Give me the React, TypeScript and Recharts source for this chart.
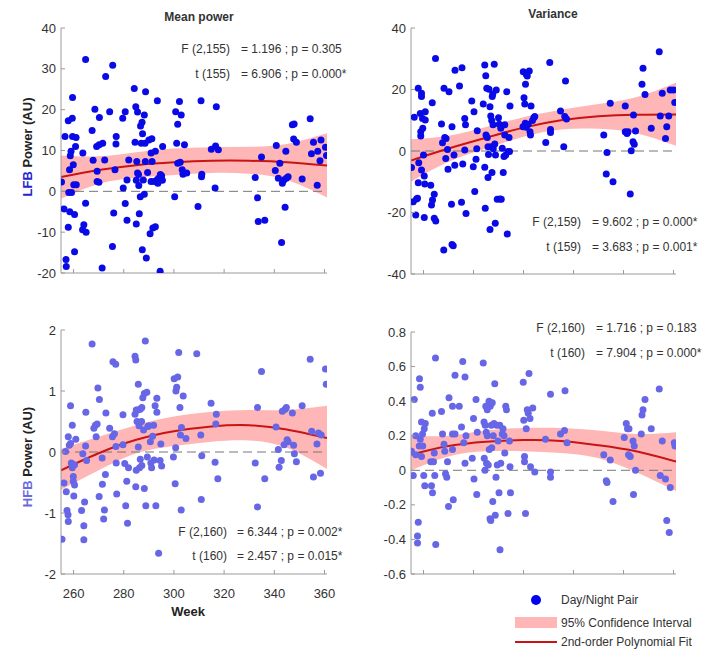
import React from 'react';
import { ComposedChart, Scatter, Line, Area, XAxis, YAxis, ReferenceLine } from 'recharts';

// [week, power] pairs
const lfbMeanPoints: [number, number][] = [
  [255.2, 2.3], [256.6, 13.4], [256.2, -4.3], [257, -16.7], [257.1, -18.4], [257.9, 17.3], [258.1, -0.3],
  [258.4, 5.3], [258.7, 8.7], [259, 9.8], [259.5, 17.9], [259.6, 23], [257.9, -8.8], [258.5, -5],
  [259.2, -0.3], [259.6, 13.4], [259.9, 6.5], [260.1, 1.6], [260.4, -5.7], [260.4, -14.8], [260.8, 11],
  [261, 13.2], [261.1, 1.6], [263.7, 9.4], [264.8, -2.9], [264.8, 32.3], [263.6, -9.4], [264.1, -8.2],
  [265, -10], [267.4, 14.9], [267.8, 7.6], [268.5, 20.1], [269.2, 11], [269.4, 4.9], [269.4, 2.4],
  [270.1, 2.2], [270.2, 11.4], [270.3, 18.1], [271.6, 11.8], [272.4, 7.7], [272.8, 28.1], [271.4, -18.8],
  [275.6, 30.9], [274.4, 19.5], [275.5, -13.5], [276, -5.3], [276.5, 5.3], [277, 13.4], [276.9, 11.6],
  [279.8, 0.8], [279.6, 17.9], [280.6, 19.5], [280.6, -3], [281.3, 2.8], [281.3, -7.1], [282, 7.7],
  [284.2, 25.2], [284.8, 20.7], [284.5, 12], [285, 2.7], [285, -8], [285.2, 7.3], [285.5, 4.5],
  [285.5, 19.4], [285.9, 4.1], [286, 1.4], [286.2, -5.5], [286.6, -1.3], [286.7, 16], [287, 11.8],
  [287.3, 16.9], [287.5, 14.1], [287.4, -14.3], [287.8, 2.8], [288.2, 18.7], [288.2, -0.7], [288.5, 11.8],
  [288.6, 7.3], [288.7, 24.4], [289, -16.3], [289.5, 4.6], [290, 12.6], [290.5, -10.4], [290.9, 9.4],
  [290.9, 2.4], [291.2, 12.9], [291.3, 7.3], [291.6, -9], [292.2, 2.4], [292.6, 9.8], [292.6, -8.7],
  [293.4, 22.2], [293.2, 2.8], [293.6, 2], [293.9, 3.2], [294.5, -19.6], [294.6, 4.1], [295.1, 3.8],
  [295.5, 11], [295.4, 2.7], [300.3, -1.3], [300.7, 19.5], [301.1, 11.8], [301.5, 16.4], [301.5, 6.9],
  [302.2, 22], [302.5, 7.1], [302.9, 18.7], [303.3, 5.3], [303.6, 4.2], [304.2, 11.4], [305.1, 4.5],
  [309.6, -3.7], [310.8, 22.2], [311.1, 4.2], [311, 3.6], [314.9, 10.3], [316.4, 0.8], [316.6, 11.1],
  [316.9, 20.7], [317.7, 10.2], [332.4, 3.4], [333.3, -1.6], [333.6, -7.4], [334.9, 8.4], [336.2, -7.1],
  [340.4, 5.1], [340.8, 11.2], [341.6, 3.2], [342.2, 6.9], [342.9, -12.5], [343.2, 2], [343.8, 2.8],
  [344.3, -3.9], [344.6, 9.8], [344.8, 3.2], [345.5, 3.6], [347.2, 16.3], [347.7, 12.8], [347.9, 16.5],
  [348.8, 12], [351.1, 3], [354.3, 17.8], [354.8, 9.2], [355.6, 12], [357.1, 1.5], [357.3, 9.8],
  [358.2, 7.5], [358.6, 12.6], [360.4, 10.8], [360.8, 8.8],
];

const lfbVarPoints: [number, number][] = [
  [255.2, -5.4], [255.9, -16.5], [256.3, 11], [256.9, -20.8], [257.2, -15.6], [257.6, -15.4], [257.9, 20.4],
  [257.9, -10.3], [258.1, -3.8], [258.7, 12.2], [258.9, 4.9], [258.9, 6.3], [259.2, 18.8], [259.2, 17.7],
  [259.2, -6.2], [259.6, 10.6], [259.7, 7.4], [260, -1.3], [260.3, -8.1], [260.5, -10.7], [260.3, -21.6],
  [260.7, 12.8], [260.7, 10.1], [262.9, -11.1], [263.2, -17.6], [263.5, 15.7], [263.6, -15.9], [264.3, -14.1],
  [264.3, -21.9], [264.8, 30.1], [264.9, -22.8], [267.2, 8.8], [267.6, 2.7], [268.1, -32.2], [268.2, 20.4],
  [268.5, 4.4], [268.9, -2.4], [269, 4.1], [269.6, 0.5], [269.8, -5.9], [270.2, 19.3], [271.2, -17.3],
  [271.4, 7.9], [271.4, -30.4], [271.9, -30.8], [272.2, -1.3], [272.5, -4.6], [272.6, 26.3], [274.4, 21.1],
  [275.4, 27.1], [275.2, -16.7], [275.7, -4.2], [276.5, 10.6], [276.8, 8.5], [277, -20.3], [276.5, 0.3],
  [279.3, 16.3], [279.9, -5.1], [280.2, 12.8], [280.5, -13.2], [281, -2.7], [281.5, 6.6], [281.3, 0.7],
  [283.9, 15.3], [284.5, 28], [284.5, -5.3], [284.7, -18.6], [284.9, 24.5], [285, 5.2], [285.3, 20.4],
  [285.5, 4.4], [285.8, 1.4], [285.8, -8.6], [286, -1.1], [286.2, 20.1], [286.6, 14.4], [286.6, -25.5],
  [286.9, 11.4], [287.1, 1.4], [287.3, 9.9], [287.4, -7], [287.5, 17.7], [287.7, 18.5], [287.8, 8.5],
  [287.9, 0.7], [288.3, 28.2], [288.5, 2.3], [288.7, -23.5], [288.8, -1.3], [289.1, 19.8], [289.5, -15.7],
  [290, 10.8], [290.3, 8.7], [290.6, -15.6], [290.9, 7.4], [291.1, -15.7], [291.5, 0.9], [291.9, -7],
  [292.2, -1.8], [292.5, 8.5], [292.5, 5.2], [292.9, -1.3], [293.3, 19.3], [293.5, -27], [293.8, -0.2],
  [294.2, 4.4], [294.4, -0.2], [294.6, 14.6], [299.8, 7.9], [299.9, 25.8], [300.2, 17.3], [300.5, 15.3],
  [300.7, 9], [300.8, 21.7], [301.1, 25], [301.1, 7.7], [301.5, 24.4], [301.9, 8.7], [302.3, 26],
  [302.6, 6.3], [302.8, 5.2], [303, 14.6], [303.6, 9.9], [304.1, 10.8], [304.5, 11.2], [308.9, 2.8],
  [310.5, 28.8], [310.8, 7], [310.8, 6], [314.8, 13], [316.1, 1.4], [316.5, 11.2], [316.8, 22.8],
  [317.2, 10.4], [332.1, 5.2], [333.4, -0.5], [333.1, -7.5], [334.7, 15.5], [335.8, -10], [340.7, 14.6],
  [340.7, 6.3], [341.4, 5.7], [341.8, 6.3], [342.7, -14], [343.1, 0.1], [343.8, 3], [344, 11.7],
  [344.3, 2.2], [344.8, 6.5], [347.4, 21.7], [347.8, 26.9], [348.6, 18.4], [351.1, 7.4], [354.3, 32.3],
  [354.7, 11.4], [355.5, 18.8], [356.8, 4.1], [357.3, 7.9], [358.1, 11.4], [358.7, 19.8], [360, 19.8],
  [360.5, 15.8],
];

const hfbMeanPoints: [number, number][] = [
  [255.4, -1.43], [256.2, -0.51], [256.8, 0.01], [257.1, -0.65], [257.4, -0.96], [257.8, -1.03], [257.9, -1.14],
  [257.9, 0.25], [258.3, 0.11], [258.8, 0.76], [258.8, 0.14], [259.1, -0.18], [259.5, 0.44], [259.5, -0.26],
  [259.9, -0.48], [259.9, -0.4], [260.1, -0.72], [260.4, -0.54], [260.4, -0.21], [260.9, 0.21], [263.2, -0.96],
  [263.7, -0.03], [264.1, -1.21], [264.1, -1.44], [264.4, -0.82], [264.8, 0.1], [264.9, 0.65], [265.2, -0.14],
  [267.4, 1.77], [268.1, 0.39], [268.7, 0.44], [269, 0.25], [269.7, 1.05], [269.4, 0.46], [270.3, 0.86],
  [270.2, -0.73], [271.4, -0.1], [271.5, -0.53], [272, -1.1], [272.3, -0.95], [272.7, -0.37], [272.9, 0.64],
  [274.4, 0.39], [275.5, 0.25], [275.7, 1.48], [276.3, 0.3], [276.8, 1.44], [276.9, 0.09], [277, -0.18],
  [277.2, -0.69], [279.7, 0.61], [279.7, 0.12], [280.4, -0.19], [280.8, -0.88], [281.2, -0.48], [281.5, -1.17],
  [281.9, -0.26], [284.5, 1.57], [284.8, 1.51], [284.5, 0.62], [284.8, -0.57], [285, 0.69], [285, -0.3],
  [285.3, 0.5], [285.6, 0.69], [285.8, 1.11], [285.8, 0.08], [286.1, 0.43], [286.3, -0.26], [286.6, -0.12],
  [286.6, 0.7], [287.1, 0.5], [287.2, 0.73], [287.2, -0.22], [287.6, 0.89], [287.9, 0.36], [288.2, -0.6],
  [288.2, 0.96], [288.6, 1.82], [288.8, -0.88], [289.2, 0.98], [289.4, -0.08], [289.6, 0.42], [290, 0.43],
  [290.6, 0.17], [290.8, -0.18], [291.1, -0.26], [291.5, 0.26], [291.9, 0.44], [292.1, -0.13], [292.5, 0.76],
  [292.8, -0.88], [293.2, 0.88], [293.2, 0.65], [293.9, -1.66], [294.5, -0.14], [294.8, 0.13], [295.1, -0.23],
  [299.8, -0.08], [300.1, 1.2], [300.5, -0.52], [300.7, 0.07], [300.8, 1.0], [301.1, 1.06], [301.5, 1.23],
  [301.9, 1.63], [302.4, 0.73], [302.6, 0.28], [302.9, -0.95], [303, 0.4], [303.7, 0.92], [304.8, 0.22],
  [309.1, 1.61], [310.7, 0.28], [310.9, -0.78], [311.1, -0.06], [314.8, 0.8], [316.4, -0.17], [316.7, 0.46],
  [316.9, 0.62], [317.5, -0.44], [332.4, -0.18], [333.3, 0.73], [333.3, -0.9], [334.9, 1.32], [336.2, -0.44],
  [340.7, 0.41], [341.6, 0.04], [341.9, -0.25], [342.8, -0.14], [343.2, 0.67], [343.9, 0.12], [344.3, 0.7],
  [344.8, 0.73], [345.1, 0.2], [345.5, 0.17], [347.2, 0.64], [347.7, 0.11], [348, -0.03], [348.8, -0.16],
  [351.1, 0.76], [354.3, 1.52], [354.9, 0.34], [355.6, -0.41], [357, 0.13], [357.6, 0.31], [358.4, -0.35],
  [358.7, 0.28], [360.4, 1.36], [360.7, 1.11],
];

const hfbVarPoints: [number, number][] = [
  [255.2, 0.11], [255.9, -0.03], [256.3, 0.41], [256.9, 0.2], [256.9, 0.09], [257.6, -0.38], [257.6, -0.42],
  [257.9, -0.3], [258.3, 0.14], [258.4, 0.53], [258.7, 0.48], [258.7, 0.18], [259.2, 0.28], [259.2, 0.08],
  [259.6, 0.21], [259.7, 0.14], [260.1, -0.03], [260.3, 0.24], [260.7, 0.27], [260.5, -0.09], [262.9, 0.05],
  [263.2, -0.09], [263.5, 0.33], [263.6, -0.13], [264, 0.05], [264.3, 0.1], [264.5, -0.03], [264.8, 0.65],
  [264.9, -0.43], [267.2, 0.34], [267.6, 0.21], [268.2, 0.15], [268.5, 0.11], [268.8, -0.02], [269.3, -0.04],
  [269.6, 0.05], [270, -0.21], [270.2, 0.42], [271.6, 0.37], [271.6, 0.21], [271.9, -0.17], [272.6, 0.21],
  [272.6, 0.55], [271.6, 0.12], [274.3, 0.37], [275.2, 0.25], [275.7, 0.63], [276.1, 0.16], [276.6, 0.04],
  [276.6, 0.54], [277, 0.2], [279.5, 0.07], [280, 0.3], [280.2, -0.05], [281, 0.41], [281.3, -0.14],
  [281.5, 0.22], [283.9, 0.62], [284.2, 0.28], [284.3, 0.07], [284.6, 0.0], [284.7, 0.26], [284.9, 0.37],
  [285.1, 0.22], [285.2, 0.04], [285.5, 0.35], [285.5, 0.2], [285.9, 0.03], [286.2, 0.4], [286.3, 0.12],
  [286.6, -0.28], [286.7, 0.37], [286.9, -0.29], [287.1, 0.26], [287.3, 0.13], [287.5, 0.39], [287.7, -0.18],
  [287.9, 0.2], [288.2, 0.27], [288.5, 0.5], [288.7, -0.26], [289, -0.04], [289.3, 0.26], [289.5, 0.03],
  [289.8, 0.17], [290.2, -0.13], [290.5, 0.26], [290.6, -0.46], [290.9, 0.04], [291.5, 0.21], [291.8, 0.24],
  [292.2, 0.2], [292.5, 0.1], [292.9, 0.37], [293.2, 0.35], [293.8, -0.25], [294.4, 0.17], [294.8, -0.13],
  [294.6, 0.02], [299.9, 0.51], [300.1, 0.29], [300.4, 0.08], [300.4, 0.05], [300.8, -0.25], [301.1, 0.24],
  [301.5, 0.35], [301.9, 0.33], [302.2, 0.56], [302.6, 0.3], [302.8, 0.02], [303.7, 0.36], [304.5, -0.01],
  [308.8, 0.18], [310.8, 0.44], [310.8, -0.01], [310.8, -0.04], [314.8, 0.21], [316.4, 0.23], [316.6, 0.46],
  [317.4, 0.16], [332.1, 0.09], [333.1, -0.06], [333.4, -0.07], [334.7, 0.06], [335.8, -0.18], [340.3, 0.19],
  [341.1, 0.27], [341.6, 0.24], [342.2, 0.24], [342, 0.09], [342.7, 0.08], [343.8, 0.17], [344, -0.14],
  [344.3, 0.14], [344.8, 0], [347.1, 0.21], [347.4, 0.32], [347.8, 0.35], [348.6, 0.41], [351.1, 0.24],
  [354.3, 0.47], [354.7, -0.03], [355.5, 0.17], [356.8, -0.05], [357.3, -0.29], [358.3, -0.36], [358.7, -0.1],
  [360.3, 0.16], [360.6, 0.14],
];

// fitted curve and 95% confidence band, sampled at these weeks
const fitWeeks = [255, 270, 285, 300, 315, 330, 345, 361];

const lfbMeanFit = [3.5, 5.2, 6.4, 7.1, 7.5, 7.5, 7.1, 6.3];
const lfbMeanLow = [-1.8, 1.8, 3.3, 4.0, 4.5, 4.3, 2.8, -1.5];
const lfbMeanHigh = [8.8, 8.6, 9.6, 10.5, 10.8, 10.9, 11.6, 14.2];

const lfbVarFit = [-3.1, 0.8, 4.3, 7.6, 10.0, 11.3, 11.8, 11.9];
const lfbVarLow = [-10, -3.5, 0.8, 4.6, 7.0, 7.2, 5.8, 1.7];
const lfbVarHigh = [3.8, 5.0, 7.8, 11.0, 13.4, 15.3, 17.5, 22.2];

const hfbMeanFit = [-0.3, -0.02, 0.2, 0.34, 0.42, 0.44, 0.37, 0.23];
const hfbMeanLow = [-0.62, -0.3, -0.02, 0.1, 0.17, 0.19, 0.07, -0.28];
const hfbMeanHigh = [0.05, 0.25, 0.44, 0.58, 0.66, 0.69, 0.69, 0.76];

const hfbVarFit = [0.09, 0.14, 0.165, 0.175, 0.17, 0.145, 0.11, 0.05];
const hfbVarLow = [0.0, 0.08, 0.11, 0.11, 0.1, 0.07, -0.01, -0.12];
const hfbVarHigh = [0.2, 0.2, 0.23, 0.245, 0.245, 0.23, 0.21, 0.22];

const weekTicks = [260, 280, 300, 320, 340, 360];
const lfbMeanTicks = [-20, -10, 0, 10, 20, 30, 40];
const lfbVarTicks = [-40, -20, 0, 20, 40];
const hfbMeanTicks = [-2, -1, 0, 1, 2];
const hfbVarTicks = [-0.6, -0.4, -0.2, 0, 0.2, 0.4, 0.6, 0.8];

const FONT = '"Liberation Sans", Arial, Helvetica, sans-serif';
const AXIS = '#9a9a9a';
const TEXT = '#333';
const BAND = '#ffb6b6';
const FIT = '#c81414';
const LFB_DOT = '#0a0ae6';
const HFB_DOT = '#6666e6';

const YW = 40;
const MT = 10;
const MR = 10;
const XH = 30;

const buildFit = (fit: number[], low: number[], high: number[]) =>
  fitWeeks.map((week, i) => ({ week, fit: fit[i], band: [low[i], high[i]] }));

type PanelProps = {
  left: number;
  top: number;
  w: number;
  h: number;
  points: [number, number][];
  fit: { week: number; fit: number; band: number[] }[];
  yDomain: [number, number];
  yTicks: number[];
  color: string;
  showWeek?: boolean;
};

const Panel = ({ left, top, w, h, points, fit, yDomain, yTicks, color, showWeek }: PanelProps) => {
  const scatter = points.map(([week, v]) => ({ week, v }));
  const axisY = MT + h;
  const xTick = (p: any) => (
    <g>
      <line x1={p.x} x2={p.x} y1={axisY} y2={axisY - 4} stroke={AXIS} />
      {showWeek && (
        <text x={p.x} y={axisY + 19} textAnchor="middle" dominantBaseline="central" fontSize={13} fill={TEXT} fontFamily={FONT}>
          {p.payload.value}
        </text>
      )}
    </g>
  );
  const yTick = (p: any) => (
    <g>
      <line x1={YW} x2={YW + 4} y1={p.y} y2={p.y} stroke={AXIS} />
      <text x={YW - 5} y={p.y} textAnchor="end" dominantBaseline="central" fontSize={13} fill={TEXT} fontFamily={FONT}>
        {p.payload.value}
      </text>
    </g>
  );
  return (
    <div style={{ position: 'absolute', left: left - YW, top: top - MT }}>
      <ComposedChart width={YW + w + MR} height={MT + h + XH} data={fit} margin={{ top: MT, right: MR, bottom: 0, left: 0 }}>
        <XAxis
          dataKey="week"
          type="number"
          domain={[255, 361]}
          ticks={weekTicks}
          allowDataOverflow
          height={XH}
          axisLine={{ stroke: AXIS }}
          tickLine={false}
          tick={xTick}
        />
        <YAxis
          type="number"
          domain={yDomain}
          ticks={yTicks}
          allowDataOverflow
          width={YW}
          axisLine={{ stroke: AXIS }}
          tickLine={false}
          tick={yTick}
        />
        <Area dataKey="band" type="natural" fill={BAND} fillOpacity={1} stroke="none" isAnimationActive={false} />
        <ReferenceLine y={0} stroke="#777" strokeDasharray="9 5" />
        <Scatter
          data={scatter}
          dataKey="v"
          fill={color}
          isAnimationActive={false}
          shape={(s: any) => <circle cx={s.cx} cy={s.cy} r={3.5} fill={color} />}
        />
        <Line dataKey="fit" type="natural" stroke={FIT} strokeWidth={2} dot={false} isAnimationActive={false} />
      </ComposedChart>
    </div>
  );
};

const Stat = ({ right, left, y, a, b }: { right: number; left: number; y: number; a: string; b: string }) => (
  <>
    <div style={{ position: 'absolute', right: 721 - right, top: y - 8, fontSize: 12, color: TEXT, whiteSpace: 'nowrap' }}>{a}</div>
    <div style={{ position: 'absolute', left, top: y - 8, fontSize: 12, color: TEXT, whiteSpace: 'nowrap' }}>{b}</div>
  </>
);

const YLabel = ({ y, band, bandColor }: { y: number; band: string; bandColor: string }) => (
  <div
    style={{
      position: 'absolute',
      left: 28,
      top: y,
      transform: 'translate(-50%, -50%) rotate(-90deg)',
      fontSize: 13,
      fontWeight: 'bold',
      whiteSpace: 'nowrap',
      color: '#222',
    }}
  >
    <span style={{ color: bandColor }}>{band}</span> Power (AU)
  </div>
);

export default function App() {
  return (
    <div style={{ position: 'absolute', left: 0, top: 0, width: 721, height: 662, background: '#fff', fontFamily: FONT, lineHeight: '16px' }}>
      <div style={{ position: 'absolute', left: 199, top: 17, transform: 'translate(-50%, -50%)', fontSize: 12, fontWeight: 'bold', color: TEXT }}>Mean power</div>
      <div style={{ position: 'absolute', left: 553, top: 14, transform: 'translate(-50%, -50%)', fontSize: 12, fontWeight: 'bold', color: TEXT }}>Variance</div>

      <Panel left={61} top={28} w={266} h={245} points={lfbMeanPoints} fit={buildFit(lfbMeanFit, lfbMeanLow, lfbMeanHigh)} yDomain={[-20, 40]} yTicks={lfbMeanTicks} color={LFB_DOT} />
      <Panel left={411} top={28} w={265} h={246} points={lfbVarPoints} fit={buildFit(lfbVarFit, lfbVarLow, lfbVarHigh)} yDomain={[-40, 40]} yTicks={lfbVarTicks} color={LFB_DOT} />
      <Panel left={61} top={330} w={266} h={244} points={hfbMeanPoints} fit={buildFit(hfbMeanFit, hfbMeanLow, hfbMeanHigh)} yDomain={[-2, 2]} yTicks={hfbMeanTicks} color={HFB_DOT} showWeek />
      <Panel left={411} top={332} w={265} h={242} points={hfbVarPoints} fit={buildFit(hfbVarFit, hfbVarLow, hfbVarHigh)} yDomain={[-0.6, 0.8]} yTicks={hfbVarTicks} color={HFB_DOT} />

      <Stat right={230} left={241} y={49} a="F (2,155)" b="= 1.196 ; p = 0.305" />
      <Stat right={230} left={241} y={74} a="t (155)" b="= 6.906 ; p = 0.000*" />
      <Stat right={581} left={592} y={222} a="F (2,159)" b="= 9.602 ; p = 0.000*" />
      <Stat right={581} left={592} y={247} a="t (159)" b="= 3.683 ; p = 0.001*" />
      <Stat right={227} left={237} y={532} a="F (2,160)" b="= 6.344 ; p = 0.002*" />
      <Stat right={227} left={237} y={556} a="t (160)" b="= 2.457 ; p = 0.015*" />
      <Stat right={585} left={596} y={328} a="F (2,160)" b="= 1.716 ; p = 0.183" />
      <Stat right={585} left={596} y={353} a="t (160)" b="= 7.904 ; p = 0.000*" />

      <YLabel y={147} band="LFB" bandColor="#2424d0" />
      <YLabel y={457} band="HFB" bandColor="#6a6ae0" />

      <div style={{ position: 'absolute', left: 188, top: 612, transform: 'translate(-50%, -50%)', fontSize: 13, fontWeight: 'bold', color: '#222' }}>Week</div>

      <svg style={{ position: 'absolute', left: 0, top: 0 }} width={721} height={662} pointerEvents="none">
        <circle cx={536} cy={600} r={5} fill="#0000ee" />
        <rect x={515} y={617} width={42} height={11} fill={BAND} />
        <line x1={515} x2={557} y1={642} y2={642} stroke={FIT} strokeWidth={2} />
        <g fontFamily={FONT} fontSize={12} fill={TEXT}>
          <text x={561} y={600} dominantBaseline="central">Day/Night Pair</text>
          <text x={561} y={623} dominantBaseline="central">95% Confidence Interval</text>
          <text x={561} y={642} dominantBaseline="central">2nd-order Polynomial Fit</text>
        </g>
      </svg>
    </div>
  );
}
